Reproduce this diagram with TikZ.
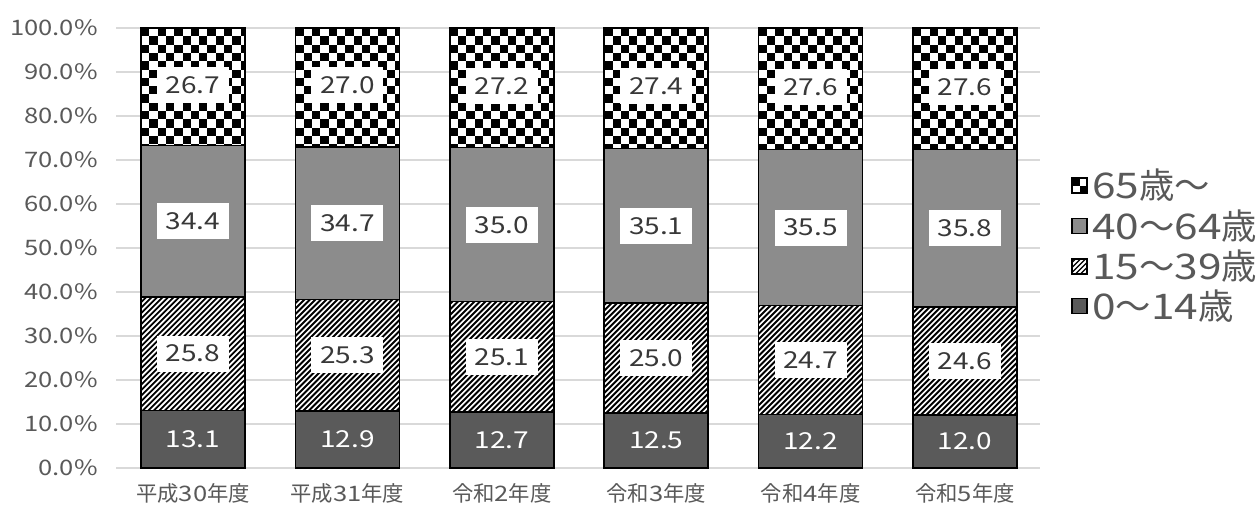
\documentclass[tikz,border=0pt]{standalone}
\usepackage{fontspec}
\setmainfont{Noto Sans CJK JP}
\newfontfamily\jp{Noto Sans CJK JP}
\newfontfamily\wide{Noto Sans CJK JP}[FakeStretch=1.2]
\definecolor{axisgray}{HTML}{595959}
\definecolor{gridgray}{HTML}{D9D9D9}
\definecolor{darkseg}{HTML}{5A5A5A}
\definecolor{midseg}{HTML}{8C8C8C}
\definecolor{labtext}{HTML}{383838}
\begin{document}
\begin{tikzpicture}[x=0.75pt,y=-0.75pt,
  axislab/.style={font=\fontsize{16}{19}\selectfont\wide, text=axisgray, inner sep=0pt},
  catlab/.style={font=\fontsize{16}{19}\selectfont, text=axisgray, inner sep=0pt},
  leglab/.style={font=\fontsize{26.5}{31}\selectfont, text=axisgray, inner sep=0pt, anchor=west},
  datalab/.style={font=\fontsize{17.5}{20}\selectfont\wide, text=labtext, fill=white, minimum width=54pt, minimum height=27pt, inner sep=0pt},
  botlab/.style={font=\fontsize{17.5}{20}\selectfont\wide, text=white, inner sep=0pt},
  gridline/.style={draw=gridgray, line width=1.1pt},
  segborder/.style={draw=black, line width=1.1pt},
  hatchline/.style={draw=black, line width=1.45pt},
  legbox/.style={draw=black, line width=1.1pt}]
\useasboundingbox (0,0) rectangle (1256,507);
\fill[white] (0,0) rectangle (1256,507);
% grid and y labels
\foreach \k in {0,...,10} {
  \pgfmathsetmacro\yy{468-44*\k}
  \pgfmathtruncatemacro\pc{10*\k}
  \draw[gridline] (116,\yy) -- (1040,\yy);
  \node[axislab, anchor=east] (yl\k) at (98,\yy) {\pc.0\%};
}
% bars
\foreach \i/\a/\b/\c/\d/\era/\yr in {0/13.1/25.8/34.4/26.7/平成/30, 1/12.9/25.3/34.7/27.0/平成/31, 2/12.7/25.1/35.0/27.2/令和/2, 3/12.5/25.0/35.1/27.4/令和/3, 4/12.2/24.7/35.5/27.6/令和/4, 5/12.0/24.6/35.8/27.6/令和/5} {
  \pgfmathsetmacro\cx{193+154.4*\i}
  \pgfmathsetmacro\xl{\cx-52}
  \pgfmathsetmacro\xr{\cx+52}
  \pgfmathsetmacro\tot{\a+\b+\c+\d}
  \pgfmathsetmacro\fa{\a/\tot}
  \pgfmathsetmacro\fb{(\a+\b)/\tot}
  \pgfmathsetmacro\fc{(\a+\b+\c)/\tot}
  \pgfmathsetmacro\ya{468-440*\fa}
  \pgfmathsetmacro\yb{468-440*\fb}
  \pgfmathsetmacro\yc{468-440*\fc}
  % 0-14
  \fill[darkseg] (\xl,468) rectangle (\xr,\ya);
  % 15-39 hatch
  \begin{scope}
    \clip (\xl,\ya) rectangle (\xr,\yb);
    \fill[white] (\xl,\ya) rectangle (\xr,\yb);
    \foreach \k in {-30,...,22} \draw[hatchline] (\xl+5.5*\k,\ya+2) -- ++(160,-160);
  \end{scope}
  % 40-64
  \fill[midseg] (\xl,\yb) rectangle (\xr,\yc);
  % 65- checker
  \begin{scope}
    \clip (\xl,\yc) rectangle (\xr,28);
    \fill[white] (\xl,28) rectangle (\xr,\yc);
    \foreach \r in {0,...,15} {
      \foreach \q in {0,...,12} {
        \pgfmathtruncatemacro\parity{mod(\r+\q,2)}
        \ifnum\parity=0 \fill[black] (\xl+8.3*\q,28+8.3*\r) rectangle ++(8.3,8.3); \fi
      }
    }
  \end{scope}
  % borders
  \draw[segborder] (\xl,468) rectangle (\xr,28);
  \draw[segborder] (\xl,\ya) -- (\xr,\ya);
  \draw[segborder] (\xl,\yb) -- (\xr,\yb);
  \draw[segborder] (\xl,\yc) -- (\xr,\yc);
  % labels
  \node[botlab] (da\i) at (\cx,{(468+\ya)/2}) {\a};
  \node[datalab] (db\i) at (\cx,{(\ya+\yb)/2}) {\b};
  \node[datalab] (dc\i) at (\cx,{(\yb+\yc)/2}) {\c};
  \node[datalab] (dd\i) at (\cx,{(\yc+28)/2-2}) {\d};
  \node[catlab] (cat\i) at (\cx,493) {{\jp\era}{\wide\yr}{\jp 年度}};
}
% legend
% 65-
\fill[white] (1072,178) rectangle (1087,193);
\fill[black] (1072,178) rectangle (1079.5,185.5);
\fill[black] (1079.5,185.5) rectangle (1087,193);
\draw[legbox] (1072,178) rectangle (1087,193);
\node[leglab] (leg1) at (1092,185.5) {{\wide 65}{\jp 歳～}};
% 40-64
\fill[midseg] (1072,218.5) rectangle (1087,233.5);
\draw[legbox] (1072,218.5) rectangle (1087,233.5);
\node[leglab] (leg2) at (1092,226) {{\wide 40}{\jp ～}{\wide 64}{\jp 歳}};
% 15-39
\begin{scope}
  \clip (1072,259) rectangle (1087,274);
  \fill[black] (1072,259) rectangle (1087,274);
  \foreach \k in {-4,...,3} \draw[white, line width=1.4pt] (1072+5*\k,275) -- ++(20,-20);
\end{scope}
\draw[legbox] (1072,259) rectangle (1087,274);
\node[leglab] (leg3) at (1092,266.5) {{\wide 15}{\jp ～}{\wide 39}{\jp 歳}};
% 0-14
\fill[darkseg] (1072,298.5) rectangle (1087,313.5);
\draw[legbox] (1072,298.5) rectangle (1087,313.5);
\node[leglab] (leg4) at (1092,306) {{\wide 0}{\jp ～}{\wide 14}{\jp 歳}};
\end{tikzpicture}
\end{document}
